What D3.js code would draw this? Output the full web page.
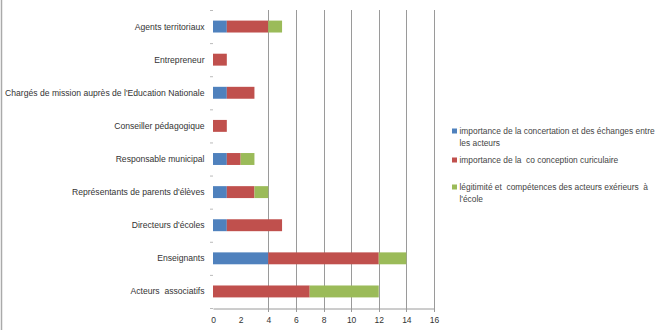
<!DOCTYPE html>
<html><head><meta charset="utf-8">
<script src="https://cdn.jsdelivr.net/npm/d3@7"></script>
<style>body{margin:0;background:#fff}svg{display:block;font-family:"Liberation Sans",Arial,sans-serif}svg text{white-space:pre}</style>
</head><body><svg id="c" width="672" height="330"></svg>
<script>
const categories = ["Agents territoriaux","Entrepreneur","Chargés de mission auprès de l'Education Nationale","Conseiller pédagogique","Responsable municipal","Représentants de parents d'élèves","Directeurs d'écoles","Enseignants","Acteurs  associatifs"];
const seriesNames = ["importance de la concertation et des échanges entre les acteurs","importance de la  co conception curiculaire","légitimité et  compétences des acteurs exérieurs  à l'école"];
const concertation = [1,0,1,0,1,1,1,4,0];
const coconception = [3,1,2,1,1,2,4,8,7];
const legitimite = [1,0,0,0,1,1,0,2,5];
const colors = ["#4F81BD","#C0504D","#9BBB59"];
const xTicks = [0,2,4,6,8,10,12,14,16];
const legendLines = [["importance de la concertation et des échanges entre","les acteurs"],["importance de la  co conception curiculaire"],["légitimité et  compétences des acteurs exérieurs  à","l'école"]];

const svg = d3.select("#c");
svg.append("line").attr("x1",1.5).attr("x2",1.5).attr("y1",0).attr("y2",330).attr("stroke","#aaa").attr("stroke-width",1.5);

const x = d3.scaleLinear().domain([0,16]).range([213,434]);
const y = d3.scaleBand().domain(categories).range([10,308]).paddingInner(0.64).paddingOuter(0.32);
const bandStep = y.step();

svg.append("g").selectAll("line").data(xTicks.filter(d=>d>=4)).join("line")
  .attr("x1",d=>Math.round(x(d))+0.5).attr("x2",d=>Math.round(x(d))+0.5)
  .attr("y1",10).attr("y2",312).attr("stroke","#9a9a9a").attr("stroke-width",1);

const data = categories.map((c,i)=>({cat:c, s0:concertation[i], s1:coconception[i], s2:legitimite[i]}));
const stack = d3.stack().keys(["s0","s1","s2"])(data);
svg.append("g").selectAll("g").data(stack).join("g").attr("fill",(d,i)=>colors[i])
  .selectAll("rect").data(d=>d).join("rect")
  .attr("x",d=>x(d[0])).attr("width",d=>x(d[1])-x(d[0]))
  .attr("y",d=>y(d.data.cat)).attr("height",y.bandwidth());

const xa = svg.append("g").attr("transform","translate(0,308.5)")
  .call(d3.axisBottom(x).tickValues(xTicks).tickSize(0).tickPadding(8));
xa.select(".domain").attr("stroke","#9a9a9a");
xa.selectAll("text").attr("font-size",8.5).attr("fill","#333").attr("font-family","Liberation Sans, Arial, sans-serif");

const bounds = d3.range(categories.length+1).map(i=>10+i*bandStep);
svg.append("g").selectAll("line").data(bounds).join("line")
  .attr("x1",210).attr("x2",213).attr("y1",d=>d+0.5).attr("y2",d=>d+0.5).attr("stroke","#bbb");

svg.append("g").selectAll("text").data(categories).join("text")
  .attr("x",204.5).attr("y",d=>y(d)+y.bandwidth()/2).attr("dy","0.35em")
  .attr("text-anchor","end").attr("font-size",8.6).attr("fill","#333").text(d=>d);

const legY = [131,160,187];
const lg = svg.append("g");
legendLines.forEach((lines,i)=>{
  lg.append("rect").attr("x",452).attr("y",legY[i]-2.5).attr("width",5).attr("height",5).attr("fill",colors[i]);
  lines.forEach((t,j)=>{
    lg.append("text").attr("x",459.5).attr("y",legY[i]+j*12).attr("dy","0.35em")
      .attr("font-size",8.4).attr("fill","#444").text(t);
  });
});
</script></body></html>
